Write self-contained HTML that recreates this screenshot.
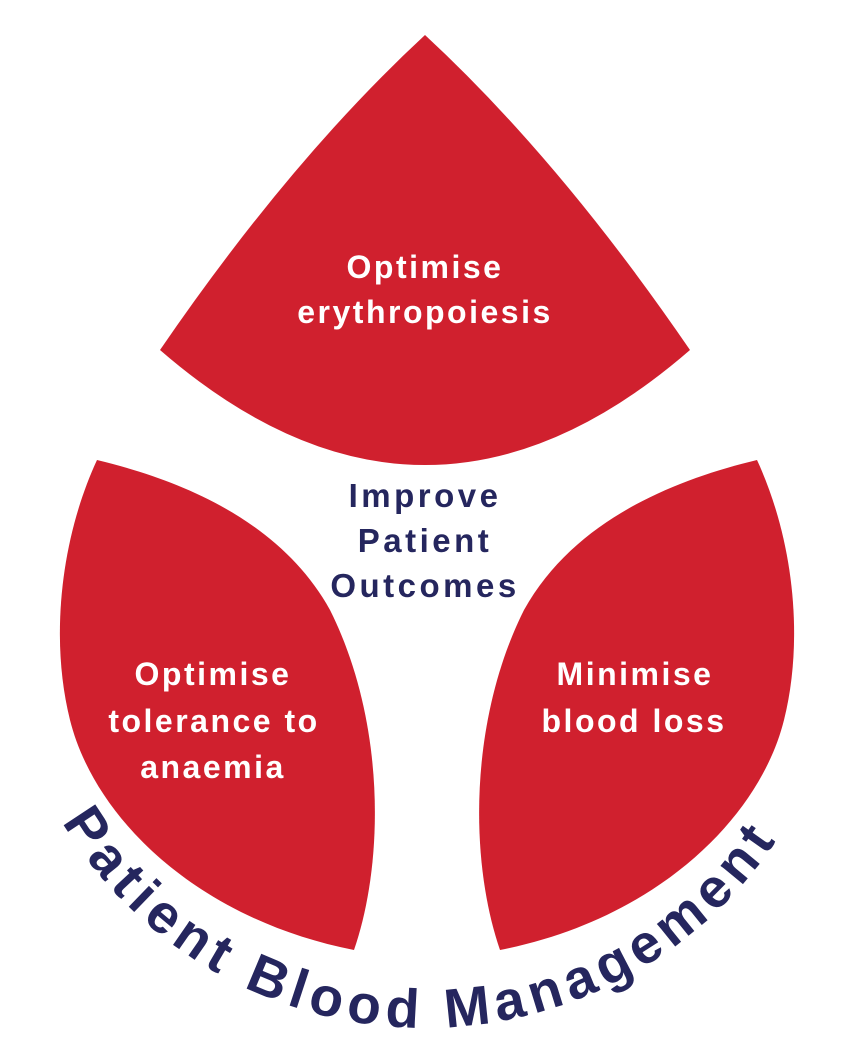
<!DOCTYPE html>
<html><head><meta charset="utf-8"><style>
html,body{margin:0;padding:0;background:#fff;}
svg{display:block;}
text{font-family:"Liberation Sans",sans-serif;font-weight:bold;}
</style></head><body>
<svg width="847" height="1055" viewBox="0 0 847 1055" xmlns="http://www.w3.org/2000/svg">
<g fill="#d0202e">
<path d="M425,35 Q560,160 690,350 Q425,580 160,350 Q290,160 425,35 Z"/>
<path d="M97,460 C60,540 50,640 70,720 C95,820 200,920 354,950 C385,860 385,720 330,610 C280,520 180,480 97,460 Z"/>
<path d="M757,460 C794,540 804,640 784,720 C759,820 654,920 500,950 C469,860 469,720 524,610 C574,520 674,480 757,460 Z"/>
</g>
<g fill="#fff" font-size="32" text-anchor="middle" letter-spacing="2.5">
<text x="425" y="278">Optimise</text>
<text x="425" y="323">erythropoiesis</text>
<text x="213" y="685">Optimise</text>
<text x="214" y="732">tolerance to</text>
<text x="213" y="778">anaemia</text>
<text x="635" y="685">Minimise</text>
<text x="634" y="732">blood loss</text>
</g>
<g fill="#25265e" font-size="33" text-anchor="middle" letter-spacing="3.5">
<text x="425" y="507">Improve</text>
<text x="425" y="552">Patient</text>
<text x="425" y="597">Outcomes</text>
</g>
<defs><path id="arc" d="M62,822 A423,423 0 0 0 788,822"/></defs>
<text fill="#25265e" font-size="55"><textPath href="#arc" textLength="850" lengthAdjust="spacing">Patient Blood Management</textPath></text>
</svg>
</body></html>
